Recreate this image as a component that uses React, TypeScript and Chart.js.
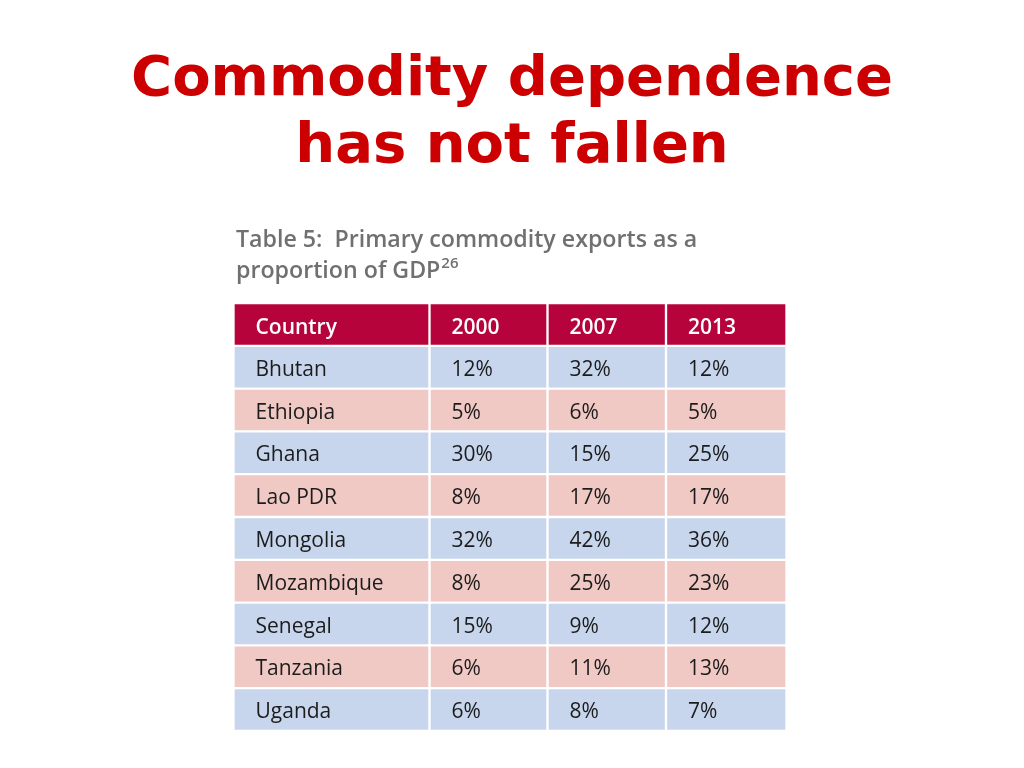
import React, { useEffect, useRef } from "react";
import { Chart, registerables } from "chart.js";

Chart.register(...registerables);

const slideTitle = ["Commodity dependence", "has not fallen"];
const captionLine1 = "Table 5:  Primary commodity exports as a";
const captionLine2 = "proportion of GDP";
const captionNote = "26";

const headerLabels = ["Country", "2000", "2007", "2013"];
const countries = ["Bhutan", "Ethiopia", "Ghana", "Lao PDR", "Mongolia", "Mozambique", "Senegal", "Tanzania", "Uganda"];
const values2000 = [12, 5, 30, 8, 32, 8, 15, 6, 6];
const values2007 = [32, 6, 15, 17, 42, 25, 9, 11, 8];
const values2013 = [12, 5, 25, 17, 36, 23, 12, 13, 7];

// layout of the table columns (widths in axis units)
const columnWidths = [196, 118, 118.5, 120.5];

const HEADER_BG = "#B6033B";
const BLUE_BG = "#C7D6ED";
const PINK_BG = "#F0C9C5";
const TEXT_DARK = "#1c1c1c";
const TITLE_RED = "#CC0000";
const CAPTION_GREY = "#707070";
const CELL_FONT = '"Open Sans", "Noto Sans", sans-serif';

export default function App() {
  const canvasRef = useRef<HTMLCanvasElement | null>(null);

  useEffect(() => {
    const canvas = canvasRef.current;
    if (!canvas) return;

    const rowLabels = ["Country", ...countries];
    const edges: number[] = [0];
    columnWidths.forEach((w) => edges.push(edges[edges.length - 1] + w));
    const total = edges[edges.length - 1];

    const valueCols = [values2000, values2007, values2013];
    const cellText = (row: number, col: number): string => {
      if (row === 0) return headerLabels[col];
      if (col === 0) return countries[row - 1];
      return valueCols[col - 1][row - 1] + "%";
    };
    const rowColor = (row: number) => (row === 0 ? HEADER_BG : row % 2 === 1 ? BLUE_BG : PINK_BG);

    const datasets = columnWidths.map((_, c) => ({
      label: headerLabels[c],
      data: rowLabels.map(() => [edges[c], edges[c + 1]] as [number, number]),
      backgroundColor: rowLabels.map((_, r) => rowColor(r)),
      borderColor: "#ffffff",
      borderWidth: 1.5,
      borderSkipped: false as const,
      barPercentage: 1,
      categoryPercentage: 1,
      grouped: false,
    }));

    const textPlugin = {
      id: "tableText",
      afterDatasetsDraw(chart: any) {
        const { ctx, scales, chartArea } = chart;
        const xs = scales.x;
        const ys = scales.y;
        ctx.save();
        ctx.textAlign = "left";
        ctx.textBaseline = "alphabetic";
        rowLabels.forEach((_, r) => {
          const yc = ys.getPixelForValue(r);
          columnWidths.forEach((__, c) => {
            const x = xs.getPixelForValue(edges[c]) + 22;
            if (r === 0) {
              ctx.font = `600 21px ${CELL_FONT}`;
              ctx.fillStyle = "#ffffff";
              ctx.fillText(cellText(r, c), x, yc + 9.5);
            } else {
              ctx.font = `400 21px ${CELL_FONT}`;
              ctx.fillStyle = TEXT_DARK;
              ctx.fillText(cellText(r, c), x, yc + 8.5);
            }
          });
        });

        // caption
        const left = chartArea.left + 2.5;
        ctx.font = `600 23.2px ${CELL_FONT}`;
        ctx.fillStyle = CAPTION_GREY;
        ctx.fillText(captionLine1, left, chartArea.top - 56);
        ctx.fillText(captionLine2, left, chartArea.top - 25);
        const w = ctx.measureText(captionLine2).width;
        ctx.font = `600 15px ${CELL_FONT}`;
        ctx.fillText(captionNote, left + w + 1, chartArea.top - 35);

        // slide title
        ctx.font = 'bold 56px "DejaVu Sans", Verdana, sans-serif';
        ctx.fillStyle = TITLE_RED;
        ctx.textAlign = "center";
        ctx.fillText(slideTitle[0], 512, 95);
        ctx.fillText(slideTitle[1], 512, 162);
        ctx.restore();
      },
    };

    const chart = new Chart(canvas, {
      type: "bar",
      data: { labels: rowLabels, datasets: datasets as any },
      options: {
        indexAxis: "y",
        responsive: false,
        animation: false,
        layout: { padding: { top: 303, left: 233.5, right: 237.5, bottom: 37 } },
        scales: {
          x: { type: "linear", min: 0, max: total, display: false, grid: { display: false } },
          y: { type: "category", display: false, grid: { display: false } },
        },
        plugins: {
          legend: { display: false },
          tooltip: { enabled: false },
          title: { display: false },
        },
      },
      plugins: [textPlugin],
    });

    return () => chart.destroy();
  }, []);

  return (
    <div style={{ position: "absolute", left: 0, top: 0, width: 1024, height: 768, background: "#ffffff" }}>
      <canvas ref={canvasRef} width={1024} height={768} style={{ display: "block" }} />
    </div>
  );
}
